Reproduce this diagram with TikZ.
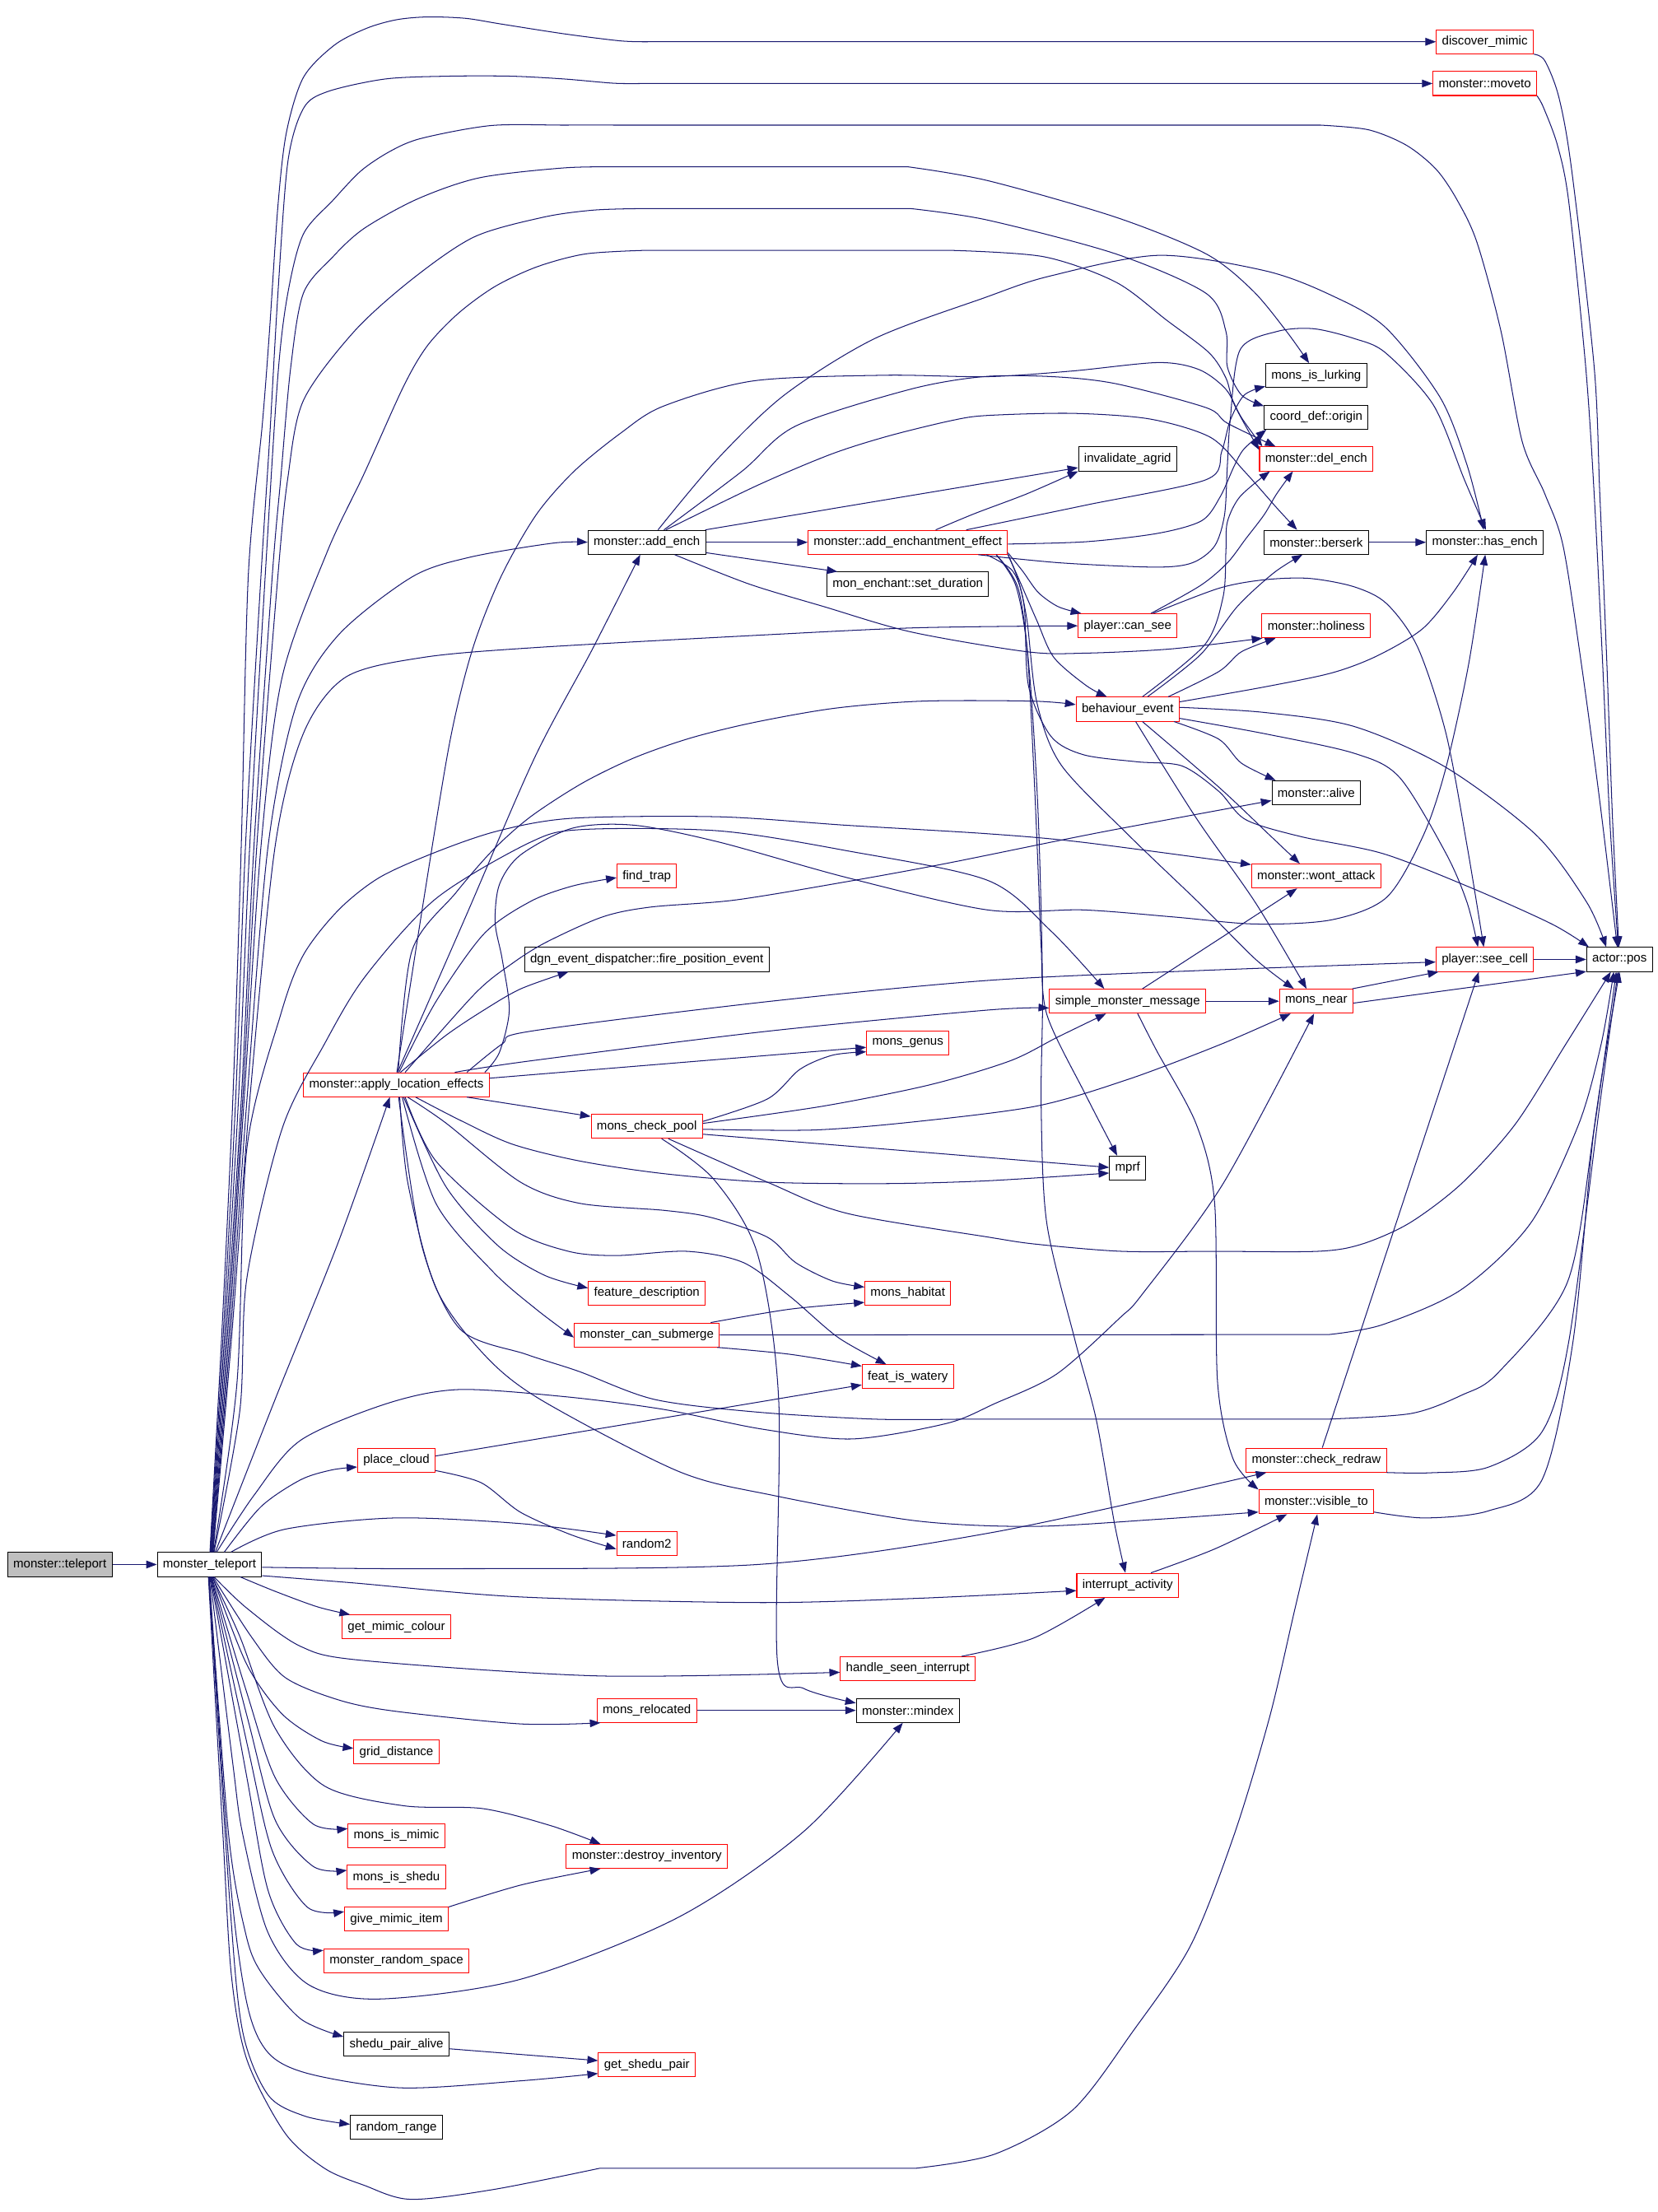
\documentclass[tikz,border=0pt]{standalone}
\usepackage{fontspec}
\setmainfont{Liberation Sans}
\usetikzlibrary{arrows.meta}
\definecolor{callblue}{RGB}{25,25,112}
\tikzset{
  fn/.style={draw=black, line width=0.6bp, rectangle, minimum height=17bp, inner xsep=4bp, inner ysep=0pt, font=\fontsize{8.83}{10}\selectfont},
  fnred/.style={fn, draw=red},
  fnroot/.style={fn, fill=gray!50},
  call/.style={draw=callblue, line width=0.6bp, smooth, tension=0.5, -{Triangle[length=7.5bp,width=5.5bp]}},
}
\begin{document}
\begin{tikzpicture}[x=1bp, y=-1bp]
\useasboundingbox (0,0) rectangle (1175,1568);
\node[fnroot] (teleport) at (42.4,1109) {monster::teleport};
\node[fn] (MT) at (148.5,1109) {monster\_teleport};
\node[fnred] (discmim) at (1052.5,29.6) {discover\_mimic};
\node[fnred] (moveto) at (1052.5,59.2) {monster::moveto};
\node[fn] (lurking) at (933,266.2) {mons\_is\_lurking};
\node[fn] (origin) at (933,295.7) {coord\_def::origin};
\node[fnred] (delench) at (933,325.3) {monster::del\_ench};
\node[fn] (agrid) at (799.3,325.3) {invalidate\_agrid};
\node[fn] (addench) at (458.5,384.4) {monster::add\_ench};
\node[fnred] (effect) at (643.5,384.4) {monster::add\_enchantment\_effect};
\node[fn] (berserk) at (933,384.4) {monster::berserk};
\node[fn] (hasench) at (1052.5,384.4) {monster::has\_ench};
\node[fn] (duration) at (643.5,414) {mon\_enchant::set\_duration};
\node[fnred] (cansee) at (799.3,443.6) {player::can\_see};
\node[fnred] (holiness) at (933,443.6) {monster::holiness};
\node[fnred] (behav) at (799.3,502.7) {behaviour\_event};
\node[fn] (alive) at (933,561.9) {monster::alive};
\node[fnred] (findtrap) at (458.5,621) {find\_trap};
\node[fnred] (wont) at (933,621) {monster::wont\_attack};
\node[fn] (fireevt) at (458.5,680.1) {dgn\_event\_dispatcher::fire\_position\_event};
\node[fnred] (seecell) at (1052.5,680.1) {player::see\_cell};
\node[fn] (pos) at (1148,680.1) {actor::pos};
\node[fnred] (smm) at (799.3,709.7) {simple\_monster\_message};
\node[fnred] (near) at (933,709.7) {mons\_near};
\node[fnred] (genus) at (643.5,739.3) {mons\_genus};
\node[fnred] (apploc) at (281,768.9) {monster::apply\_location\_effects};
\node[fnred] (pool) at (458.5,798.4) {mons\_check\_pool};
\node[fn] (mprf) at (799.3,828) {mprf};
\node[fnred] (featdesc) at (458.5,916.7) {feature\_description};
\node[fnred] (habitat) at (643.5,916.7) {mons\_habitat};
\node[fnred] (submerge) at (458.5,946.3) {monster\_can\_submerge};
\node[fnred] (watery) at (643.5,975.9) {feat\_is\_watery};
\node[fnred] (cloud) at (281,1035) {place\_cloud};
\node[fnred] (redraw) at (933,1035) {monster::check\_redraw};
\node[fnred] (visible) at (933,1064.6) {monster::visible\_to};
\node[fnred] (random2) at (458.5,1094.2) {random2};
\node[fnred] (interrupt) at (799.3,1123.7) {interrupt\_activity};
\node[fnred] (mimcol) at (281,1153.3) {get\_mimic\_colour};
\node[fnred] (seenint) at (643.5,1182.9) {handle\_seen\_interrupt};
\node[fnred] (relocated) at (458.5,1212.4) {mons\_relocated};
\node[fn] (mindex) at (643.5,1212.4) {monster::mindex};
\node[fnred] (griddist) at (281,1242) {grid\_distance};
\node[fnred] (ismimic) at (281,1301.1) {mons\_is\_mimic};
\node[fnred] (destroy) at (458.5,1315.9) {monster::destroy\_inventory};
\node[fnred] (isshedu) at (281,1330.7) {mons\_is\_shedu};
\node[fnred] (givemimic) at (281,1360.3) {give\_mimic\_item};
\node[fnred] (randspace) at (281,1389.8) {monster\_random\_space};
\node[fn] (pairalive) at (281,1449) {shedu\_pair\_alive};
\node[fnred] (shedupair) at (458.5,1463.7) {get\_shedu\_pair};
\node[fn] (randrange) at (281,1508.1) {random\_range};
\draw[call] (teleport) -- (MT);
\draw[call] plot coordinates {(MT.88) (157,950) (165,780) (171,600) (176,408) (186,300) (191,235) (197,146) (203,94) (215,55) (237,32) (260,20) (281,14) (303,12) (330,13) (355,17) (400,24) (440,29) (460,29.6)} -- (discmim.west);
\draw[call] plot coordinates {(MT.86) (158,950) (167,780) (174,600) (185,408) (191,313) (197,208) (204,115) (215,77) (232,65) (273,56) (318,54) (362,54) (400,56) (435,59) (455,59.2)} -- (moveto.west);
\draw[call] plot coordinates {(MT.84) (159,950) (169,780) (177,600) (188,408) (197,266) (204,208) (215,166) (236,142) (256,121) (277,107) (299,98) (348,89) (400,88.7) (441,88.7)} -- plot coordinates {(936,88.7) (970,92) (997,103) (1018,120) (1033,142) (1047,172) (1064,235) (1079,313) (1095,350) (1108,387) (1121,471) (1134,568) (pos.100)};
\draw[call] plot coordinates {(MT.82) (160,950) (171,780) (180,600) (193,408) (199,339) (206,261) (215,208) (236,182) (258,162) (296,141) (340,126) (400,119) (441,118.3)} -- plot coordinates {(644,118.3) (700,128) (791,154) (855,180) (888,206) (912,235) (lurking.120)};
\draw[call] plot coordinates {(MT.80) (161,950) (172,780) (182,600) (197,408) (204,339) (215,284) (251,235) (292,198) (336,168) (385,154) (420,149) (452,147.9)} -- plot coordinates {(646,147.9) (700,156) (791,180) (855,208) (869,235) (870,260) (880,280) (origin.168)};
\draw[call] plot coordinates {(MT.78) (162,950) (173,780) (185,600) (200,480) (232,391) (258,336) (286,274) (303,245) (325,222) (351,203) (381,189) (415,180) (456,177.5)} -- plot coordinates {(675,177.5) (740,182) (791,200) (827,227) (857,250) (869,268) (875,287) (delench.171)};
\draw[call] plot coordinates {(discmim.south east) (1095,43) (1105,69) (1114,120) (1130,260) (1134,350) (1139,470) (1143,580) (pos.93)};
\draw[call] plot coordinates {(moveto.south east) (1094,76) (1104,103) (1112,143) (1124,260) (1130,350) (1136,470) (1141,580) (pos.96)};
\draw[call] plot coordinates {(MT.76) (163,950) (175,780) (190,600) (210,500) (240,450) (292,409) (333,395) (392,385) (addench.west)};
\draw[call] plot coordinates {(MT.74) (164,950) (177,780) (195,600) (215,520) (245,480) (300,466) (380,459) (543,450) (650,445) (cansee.west)};
\draw[call] plot coordinates {(MT.72) (168,980) (175,814) (199,719) (215,677) (240,645) (269,622) (309,604) (353,589) (406,580) (510,579) (600,585) (700,591) (767,597) (wont.170)};
\draw[call] plot coordinates {(MT.70) (170,1000) (175,906) (200,800) (230,740) (259,692) (309,637) (376,597) (413,588) (510,589) (600,603) (700,624) (745,660) (smm.152)};
\draw[call] plot coordinates {(MT.60) (180,1060) (213,1021) (274,995) (325,985) (400,990) (470,999) (540,1013) (604,1020) (671,1009) (705,995) (749,974) (794,934) (810,917) (867,839) (near.-100)};
\draw[call] plot coordinates {(MT.65) (195,992) (240,880) (apploc.-118)};
\draw[call] plot coordinates {(MT.30) (202,1084) (280,1076) (369,1080) (random2.165)};
\draw[call] plot coordinates {(cloud.-15) (341,1051) (369,1072) (405,1088) (random2.190)};
\draw[call] plot coordinates {(MT.40) (185,1068) (213,1049) (235,1042) (cloud.190)};
\draw[call] (cloud.6) -- (watery.190);
\draw[call] plot coordinates {(MT.-3) (313,1112) (537,1109) (705,1086) (redraw.194)};
\draw[call] plot coordinates {(MT.-12) (250,1122) (369,1132) (537,1136) (650,1133) (interrupt.186)};
\draw[call] plot coordinates {(MT.-22) (195,1128) (225,1139) (mimcol.165)};
\draw[call] plot coordinates {(MT.-70) (175,1140) (213,1167) (257,1177) (425,1188) (seenint.183)};
\draw[call] plot coordinates {(MT.-74) (178,1160) (202,1189) (240,1205) (280,1213) (369,1222) (relocated.195)};
\draw[call] (relocated) -- (mindex);
\draw[call] plot coordinates {(MT.-76) (175,1180) (200,1215) (228,1234) (griddist.175)};
\draw[call] plot coordinates {(MT.-78) (170,1160) (195,1225) (230,1266) (286,1280) (342,1282) (390,1294) (destroy.165)};
\draw[call] plot coordinates {(MT.-80) (175,1200) (195,1260) (222,1293) (ismimic.172)};
\draw[call] plot coordinates {(MT.-82) (176,1220) (195,1290) (222,1323) (isshedu.172)};
\draw[call] plot coordinates {(MT.-84) (176,1240) (193,1312) (218,1352) (givemimic.172)};
\draw[call] plot coordinates {(givemimic.13) (370,1336) (destroy.195)};
\draw[call] plot coordinates {(MT.-86) (175,1260) (190,1340) (210,1378) (randspace.172)};
\draw[call] plot coordinates {(MT.-88) (165,1250) (172,1300) (190,1370) (219,1407) (269,1417) (369,1403) (481,1359) (570,1298) (mindex.-112)};
\draw[call] plot coordinates {(MT.-91) (162,1300) (174,1370) (185,1398) (213,1431) (pairalive.172)};
\draw[call] (pairalive.-5) -- (shedupair.175);
\draw[call] plot coordinates {(MT.-92) (163,1330) (175,1420) (190,1455) (219,1470) (285,1480) (369,1475) (shedupair.190)};
\draw[call] plot coordinates {(MT.-93) (163,1350) (172,1440) (190,1485) (216,1500) (randrange.176)};
\draw[call] plot coordinates {(MT.-95) (158,1300) (164,1400) (175,1460) (202,1512) (230,1537) (258,1549) (291,1559) (350,1552) (425,1537)} -- plot coordinates {(649,1537) (705,1527) (760,1496) (803,1440) (844,1379) (875,1300) (900,1217) (918,1140) (visible.-85)};
\draw[call] plot coordinates {(apploc.85) (330,650) (379,537) (420,460) (addench.-118)};
\draw[call] plot coordinates {(apploc.88) (300,640) (319,525) (335,460) (355,409) (380,365) (407,334) (440,307) (470,288) (534,270) (627,266) (700,267) (760,263) (821,257) (850,262) (869,276) (880,296) (delench.167)};
\draw[call] plot coordinates {(apploc.82) (292,674) (323,633) (349,603) (376,579) (413,555) (450,537) (490,523) (535,512) (592,502) (654,497) (732,497) (behav.175)};
\draw[call] plot coordinates {(apploc.78) (309,710) (343,662) (376,639) (406,628) (findtrap.183)};
\draw[call] plot coordinates {(apploc.72) (316,734) (343,716) (369,701) (fireevt.-171)};
\draw[call] plot coordinates {(apploc.55) (337,704) (363,683) (387,668) (427,650) (461,643) (521,638) (600,625) (671,612) (780,590) (alive.190)};
\draw[call] plot coordinates {(apploc.8) (354,746) (361,716) (356,680) (351,654) (354,627) (369,606) (406,587) (450,585) (510,597) (600,622) (700,645) (768,645) (832,650) (890,655) (944,652) (983,636) (1009,592) (1025,544) (1041,471) (hasench.-88)};
\draw[call] plot coordinates {(apploc.10) (356,740) (376,731) (544,710) (700,695) (850,688) (seecell.183)};
\draw[call] plot coordinates {(apploc.12) (376,752) (544,731) (700,716) (smm.185)};
\draw[call] (apploc.4) -- (genus.186);
\draw[call] (apploc.-10) -- (pool.170);
\draw[call] plot coordinates {(apploc.-33) (326,794) (363,811) (411,823) (471,832) (544,838) (628,839) (700,837) (mprf.195)};
\draw[call] plot coordinates {(apploc.-48) (316,796) (369,838) (411,853) (471,858) (504,863) (544,877) (564,895) (590,908) (habitat.172)};
\draw[call] plot coordinates {(apploc.-55) (309,823) (363,871) (403,887) (437,890) (487,887) (527,895) (560,919) (594,948) (watery.150)};
\draw[call] plot coordinates {(apploc.-60) (316,841) (353,883) (386,904) (featdesc.175)};
\draw[call] plot coordinates {(apploc.-65) (309,853) (349,901) (380,928) (submerge.182)};
\draw[call] plot coordinates {(apploc.-75) (289,838) (309,913) (343,960) (383,992) (481,1043) (548,1060) (649,1078) (732,1082) (820,1077) (visible.190)};
\draw[call] plot coordinates {(apploc.-80) (299,883) (326,942) (373,960) (410,972) (464,992) (537,1001) (621,1006) (680,1006)} -- plot coordinates {(940,1006) (1000,1002) (1036,989) (1062,973) (1111,909) (1130,800) (pos.-105)};
\draw[call] (addench) -- (effect);
\draw[call] (addench.-10) -- (duration.170);
\draw[call] (addench.12) -- (agrid.190);
\draw[call] plot coordinates {(addench.-24) (531,414) (584,430) (646,448) (728,462) (769,463) (830,460) (holiness.193)};
\draw[call] plot coordinates {(addench.33) (537,344) (589,322) (630,309) (675,298) (700,294.5) (760,293) (815,297) (858,310) (882,334) (905,360) (berserk.147)};
\draw[call] plot coordinates {(addench.36) (526,334) (564,302) (645,276) (697,267) (746,267) (791,272) (855,289) (870,300) (delench.163)};
\draw[call] plot coordinates {(addench.48) (508,326) (556,280) (620,240) (698,211) (743,196) (821,181) (897,192) (943,209) (982,232) (1021,282) (1040,330) (hasench.95)};
\draw[call] plot coordinates {(effect.24) (691,364) (728,350) (agrid.194)};
\draw[call] plot coordinates {(effect.12) (770,358) (855,340) (866,320) (872,298) (882,280) (lurking.192)};
\draw[call] plot coordinates {(effect.-1) (770,384) (821,378) (852,369) (865,352) (875,330) (882,318) (origin.194)};
\draw[call] plot coordinates {(effect.-10) (752,399) (819,402) (845,399) (861,387) (868,365) (870,330) (872,298) (879,248) (905,235) (931,233) (960,240) (982,250) (1016,287) (1038,340) (hasench.85)};
\draw[call] plot coordinates {(effect.-6) (725,405) (736,420) (750,430) (cansee.165)};
\draw[call] plot coordinates {(effect.-7) (722,410) (735,440) (747,466) (770,486) (behav.149)};
\draw[call] plot coordinates {(effect.-7) (722,412) (728,440) (735,498) (752,542) (800,592) (851,641) (890,680) (near.151)};
\draw[call] plot coordinates {(effect.-8) (720,415) (728,460) (733,550) (736,620) (738,671) (742,719) (769,775) (mprf.130)};
\draw[call] plot coordinates {(effect.-8) (722,418) (730,480) (736,580) (739,700) (738,783) (742,867) (762,950) (777,1006) (790,1080) (interrupt.100)};
\draw[call] plot coordinates {(effect.-9) (718,405) (726,430) (729,486) (745,522) (768,535) (806,540) (838,543) (864,561) (883,581) (922,593) (980,605) (1042,629) (1100,655) (pos.158)};
\draw[call] plot coordinates {(behav.2) (896,505) (960,515) (1025,544) (1089,592) (1125,640) (pos.137)};
\draw[call] plot coordinates {(behav.-10) (896,520) (960,534) (992,551) (1025,605) (1040,640) (seecell.119)};
\draw[call] plot coordinates {(behav.-15) (864,524) (880,541) (alive.163)};
\draw[call] plot coordinates {(behav.-40) (864,558) (900,592) (wont.143)};
\draw[call] plot coordinates {(behav.-57) (848,580) (890,640) (near.128)};
\draw[call] plot coordinates {(behav.8) (896,487) (944,477) (976,465) (1008,446) (1030,420) (hasench.-120)};
\draw[call] plot coordinates {(behav.17) (864,476) (880,462) (holiness.197)};
\draw[call] plot coordinates {(behav.32) (851,464) (877,430) (903,406) (berserk.222)};
\draw[call] plot coordinates {(behav.40) (854,457) (867,423) (869,390) (870,370) (879,352) (delench.195)};
\draw[call] plot coordinates {(cansee.28) (851,415) (870,399) (883,382) (896,365) (905,350) (delench.208)};
\draw[call] plot coordinates {(cansee.26) (864,417) (896,411) (928,410) (960,416) (983,428) (1005,459) (1025,520) (1040,600) (seecell.95)};
\draw[call] (smm) -- (near);
\draw[call] (smm.40) -- (wont.213);
\draw[call] plot coordinates {(smm.-51) (820,745) (848,797) (861,853) (863,979) (874,1034) (visible.168)};
\draw[call] (near.19) -- (seecell.195);
\draw[call] (near.-3) -- (pos.200);
\draw[call] (seecell) -- (pos);
\draw[call] (berserk) -- (hasench);
\draw[call] (redraw.64) -- (seecell.-116);
\draw[call] plot coordinates {(redraw.-10) (1014,1044) (1055,1040) (1093,1015) (1112,951) (1134,783) (pos.-97)};
\draw[call] plot coordinates {(visible.-10) (1010,1076) (1055,1071) (1093,1049) (1115,951) (1130,800) (pos.-90)};
\draw[call] plot coordinates {(interrupt.28) (861,1098) (visible.203)};
\draw[call] plot coordinates {(seenint.13) (733,1161) (interrupt.209)};
\draw[call] plot coordinates {(pool.5) (544,779) (567,758) (590,748) (genus.192)};
\draw[call] plot coordinates {(pool.3) (584,784) (659,769) (716,752) (750,735) (smm.210)};
\draw[call] plot coordinates {(pool.-3) (577,801) (650,795) (735,784) (800,765) (866,740) (near.206)};
\draw[call] (pool.-8) -- (mprf.178);
\draw[call] plot coordinates {(pool.-30) (544,838) (600,860) (701,877) (735,882) (795,887) (860,887) (934,887) (965,882) (999,867) (1036,839) (1074,797) (1110,740) (pos.-125)};
\draw[call] plot coordinates {(pool.-40) (506,836) (537,889) (552,993) (551,1177) (570,1197) (mindex.172)};
\draw[call] plot coordinates {(submerge.11) (560,928) (habitat.192)};
\draw[call] plot coordinates {(submerge.-10) (560,960) (watery.167)};
\draw[call] (submerge.east) -- plot coordinates {(942,946) (980,939) (1036,914) (1085,867) (1119,797) (1135,740) (pos.-115)};
\end{tikzpicture}
\end{document}
